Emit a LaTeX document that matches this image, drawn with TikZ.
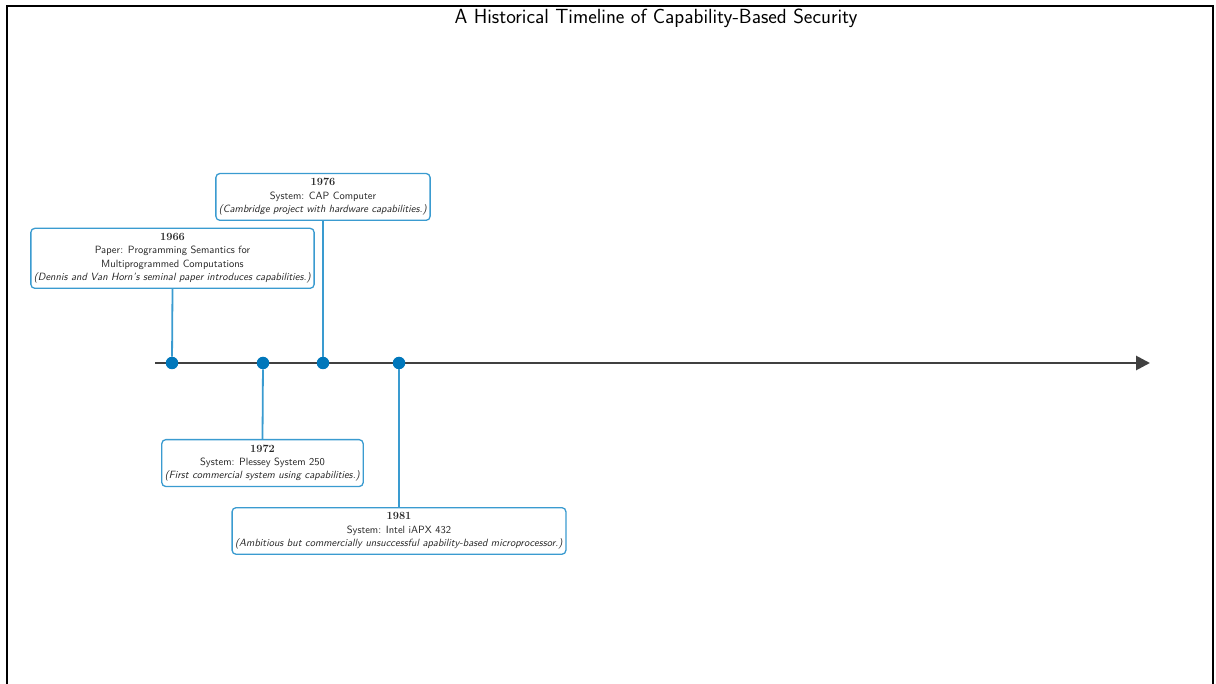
\documentclass[tikz,border=0pt]{standalone}
\usetikzlibrary{arrows.meta}
\definecolor{dotblue}{HTML}{0077BB}
\definecolor{stemblue}{HTML}{3A9BD0}
\definecolor{axisgray}{HTML}{404040}
\tikzset{
  evbox/.style={draw=stemblue, line width=1.3pt, rounded corners=4pt, fill=white, align=center,
    inner xsep=3pt, inner ysep=5pt, font=\sffamily\fontsize{10.5}{13.4}\selectfont, text=black!85},
  evdot/.style={circle, fill=dotblue, inner sep=0pt, minimum size=12.5pt},
  stem/.style={draw=stemblue, line width=1.8pt}
}
\newcommand{\yrtext}[1]{{\rmfamily\bfseries\fontsize{11}{13.4}\selectfont #1}}
\begin{document}
\begin{tikzpicture}[x=1pt,y=-1pt]
\useasboundingbox (0,0) rectangle (1216,684);
\draw[line width=2.5pt] (7,700) -- (7,6) -- (1213,6) -- (1213,700);
\node[font=\sffamily\fontsize{20.5}{24}\selectfont] (title) at (656,18) {A Historical Timeline of Capability-Based Security};
\coordinate (axs) at (155,363);
\coordinate (axe) at (1150,363);
\draw[axisgray, line width=2.8pt, -{Triangle[length=14pt,width=14pt]}] (axs) -- (axe);
\node[evdot] (d1) at (172,363) {};
\node[evdot] (d2) at (263,363) {};
\node[evdot] (d3) at (323,363) {};
\node[evdot] (d4) at (399,363) {};
\node[evbox, anchor=south] (b1) at (172.5,289) {\yrtext{1966}\\Paper: Programming Semantics for\\Multiprogrammed Computations\\\textit{(Dennis and Van Horn's seminal paper introduces capabilities.)}};
\node[evbox, anchor=south] (b3) at (323,221) {\yrtext{1976}\\System: CAP Computer\\\textit{(Cambridge project with hardware capabilities.)}};
\node[evbox, anchor=north] (b2) at (262.5,439) {\yrtext{1972}\\System: Plessey System 250\\\textit{(First commercial system using capabilities.)}};
\node[evbox, anchor=north] (b4) at (399,507) {\yrtext{1981}\\System: Intel iAPX 432\\\textit{(Ambitious but commercially unsuccessful apability-based microprocessor.)}};
\draw[stem] (b1.south) -- (d1);
\draw[stem] (b3.south) -- (d3);
\draw[stem] (d2) -- (b2.north);
\draw[stem] (d4) -- (b4.north);
\end{tikzpicture}
\end{document}
